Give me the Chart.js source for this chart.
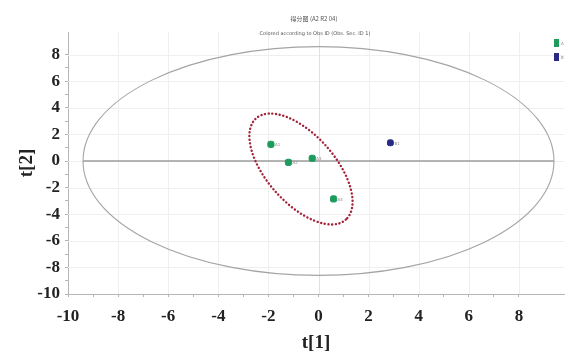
<!DOCTYPE html>
<html>
<head>
<meta charset="utf-8">
<script src="https://cdn.jsdelivr.net/npm/chart.js@4.4.1/dist/chart.umd.min.js"></script>
<style>
  html, body { margin: 0; padding: 0; background: #fff; }
  #wrap { position: relative; width: 569px; height: 358px; }
</style>
</head>
<body>
<div id="wrap"><canvas id="scoreChart"></canvas></div>
<script>
// score values
const groupA_t1 = [-1.9, -1.2, -0.25, 0.6];
const groupA_t2 = [1.25, -0.1, 0.2, -2.85];
const groupA_names = ['A1', 'A2', 'A3', 'A4'];
const groupB_t1 = [2.87];
const groupB_t2 = [1.37];
const groupB_names = ['B1'];
const legendNames = ['A', 'B'];
const titleLines = ['得分图 (A2 R2 04)', 'Colored according to Obs ID (Obs. Sec. ID 1)'];

// Hotelling T2 ellipse: [centre t1, centre t2, radius t1, radius t2]
const hotelling = [0, 0, 9.4, 8.6];
// dotted group ellipse: [centre t1, centre t2, half range t1, half range t2, t1 offset of its top point]
const groupEllipse = [-0.7, -0.6, 2.06, 4.17, -1.22];

const green = '#1e9b5c';
const navy = '#262a86';

function pts(xs, ys) {
  return xs.map((x, i) => ({ x: x, y: ys[i] }));
}

const overlay = {
  id: 'overlay',
  beforeDatasetsDraw(chart) {
    const ctx = chart.ctx;
    const xs = chart.scales.x, ys = chart.scales.y;
    const area = chart.chartArea;
    ctx.save();

    // very faint grid every 2 units
    ctx.strokeStyle = '#efefef';
    ctx.lineWidth = 1;
    ctx.beginPath();
    for (let v = -8; v <= 8; v += 2) {
      const px = Math.round(xs.getPixelForValue(v)) + 0.5;
      ctx.moveTo(px, area.top);
      ctx.lineTo(px, area.bottom);
      const py = Math.round(ys.getPixelForValue(v)) + 0.5;
      ctx.moveTo(area.left, py);
      ctx.lineTo(area.right, py);
    }
    ctx.stroke();
    // t[1] = 0 line a bit stronger
    ctx.strokeStyle = '#e0e0e0';
    ctx.beginPath();
    const x0 = Math.round(xs.getPixelForValue(0)) + 0.5;
    ctx.moveTo(x0, area.top);
    ctx.lineTo(x0, area.bottom);
    ctx.stroke();

    // Hotelling T2 ellipse and its horizontal diameter
    const hx = xs.getPixelForValue(hotelling[0]);
    const hy = ys.getPixelForValue(hotelling[1]);
    const hrx = Math.abs(xs.getPixelForValue(hotelling[0] + hotelling[2]) - hx);
    const hry = Math.abs(ys.getPixelForValue(hotelling[1] + hotelling[3]) - hy);
    ctx.strokeStyle = '#9c9c9c';
    ctx.lineWidth = 1.3;
    ctx.beginPath();
    ctx.moveTo(hx - hrx, hy);
    ctx.lineTo(hx + hrx, hy);
    ctx.stroke();
    ctx.strokeStyle = '#a4a4a4';
    ctx.lineWidth = 1.1;
    ctx.beginPath();
    ctx.ellipse(hx, hy, hrx, hry, 0, 0, Math.PI * 2);
    ctx.stroke();

    // dotted group ellipse, from its half ranges in pixels
    const gx = xs.getPixelForValue(groupEllipse[0]);
    const gy = ys.getPixelForValue(groupEllipse[1]);
    const W = Math.abs(xs.getPixelForValue(groupEllipse[0] + groupEllipse[2]) - gx);
    const H = Math.abs(ys.getPixelForValue(groupEllipse[1] + groupEllipse[3]) - gy);
    const topDx = xs.getPixelForValue(groupEllipse[0] + groupEllipse[4]) - gx;
    const s2 = -2 * topDx * H;        // (a2 - b2) sin 2θ
    const c2 = W * W - H * H;         // (a2 - b2) cos 2θ
    const diff = Math.hypot(s2, c2);
    const sum = W * W + H * H;
    const a = Math.sqrt((sum + diff) / 2);
    const b = Math.sqrt((sum - diff) / 2);
    const theta = Math.atan2(s2, c2) / 2;
    ctx.strokeStyle = '#a3243a';
    ctx.lineWidth = 2.4;
    ctx.lineCap = 'round';
    ctx.setLineDash([0.1, 3.6]);
    ctx.beginPath();
    ctx.ellipse(gx, gy, a, b, theta, 0, Math.PI * 2);
    ctx.stroke();
    ctx.restore();
  },
  afterDraw(chart) {
    const ctx = chart.ctx;
    ctx.save();
    // title
    ctx.fillStyle = '#555';
    ctx.textAlign = 'center';
    ctx.font = '6px "Noto Sans CJK SC", "DejaVu Sans"';
    ctx.fillText(titleLines[0], 314, 21);
    ctx.font = '5px "DejaVu Sans"';
    ctx.fillText(titleLines[1], 315, 35);

    // legend
    ctx.textAlign = 'left';
    ctx.fillStyle = green;
    ctx.fillRect(554, 39, 5, 8);
    ctx.fillStyle = navy;
    ctx.fillRect(554, 53, 5, 8);
    ctx.fillStyle = '#888';
    ctx.font = '4px "DejaVu Sans"';
    ctx.fillText(legendNames[0], 561, 45);
    ctx.fillText(legendNames[1], 561, 59);

    // point labels
    chart.data.datasets.forEach((ds, di) => {
      const meta = chart.getDatasetMeta(di);
      meta.data.forEach((el, i) => {
        ctx.fillText(ds.names[i], el.x + 4, el.y + 2);
      });
    });
    ctx.restore();
  }
};

new Chart(document.getElementById('scoreChart'), {
  type: 'scatter',
  data: {
    datasets: [{
      label: legendNames[0],
      names: groupA_names,
      data: pts(groupA_t1, groupA_t2),
      pointStyle: 'rectRounded',
      radius: 3.6,
      backgroundColor: green,
      borderColor: green
    }, {
      label: legendNames[1],
      names: groupB_names,
      data: pts(groupB_t1, groupB_t2),
      pointStyle: 'rectRounded',
      radius: 3.4,
      backgroundColor: navy,
      borderColor: navy
    }]
  },
  options: {
    responsive: true,
    maintainAspectRatio: false,
    animation: false,
    layout: { padding: { top: 32, right: 0, bottom: 0, left: 12 } },
    plugins: {
      legend: { display: false },
      title: { display: false },
      tooltip: { enabled: false }
    },
    scales: {
      x: {
        type: 'linear',
        min: -10,
        max: 9.8,
        afterBuildTicks: s => { s.ticks = s.ticks.filter(t => Number.isInteger(t.value)); },
        afterFit: s => { s.height = 64; },
        border: { color: '#b5b5b5' },
        grid: { drawOnChartArea: false, tickLength: 3, color: '#b5b5b5' },
        ticks: {
          stepSize: 1,
          autoSkip: false,
          maxRotation: 0,
          padding: 9,
          color: '#222',
          font: { family: '"Liberation Serif"', size: 17, weight: 'bold' },
          callback: v => (v % 2 === 0 ? v : '')
        },
        title: {
          display: true,
          text: 't[1]',
          color: '#222',
          padding: { top: 6 },
          font: { family: '"Liberation Serif"', size: 19, weight: 'bold' }
        }
      },
      y: {
        type: 'linear',
        min: -10,
        max: 9.7,
        afterBuildTicks: s => { s.ticks = s.ticks.filter(t => Number.isInteger(t.value)); },
        afterFit: s => { s.width = 56; },
        border: { color: '#b5b5b5' },
        grid: { drawOnChartArea: false, tickLength: 3, color: '#b5b5b5' },
        ticks: {
          stepSize: 1,
          autoSkip: false,
          padding: 5,
          color: '#222',
          font: { family: '"Liberation Serif"', size: 17, weight: 'bold' },
          callback: v => (v % 2 === 0 ? v : '')
        },
        title: {
          display: true,
          text: 't[2]',
          color: '#222',
          padding: { bottom: 4 },
          font: { family: '"Liberation Serif"', size: 19, weight: 'bold' }
        }
      }
    }
  },
  plugins: [overlay]
});
</script>
</body>
</html>
